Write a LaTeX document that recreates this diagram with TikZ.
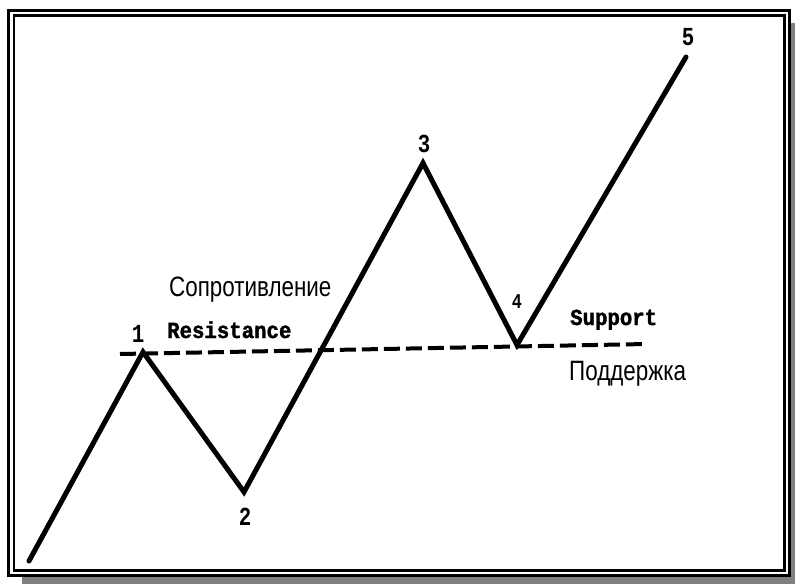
\documentclass[tikz,border=0pt]{standalone}
\usepackage{fontspec}
\setmainfont{Liberation Sans}
\newfontfamily\cyrfont[FakeStretch=0.8]{Liberation Sans}
\newfontfamily\monofont[FakeStretch=0.9,FakeBold=1.5]{Liberation Mono}
\newfontfamily\digfont[FakeStretch=0.8]{Liberation Mono}
\begin{document}
\begin{tikzpicture}[x=1pt,y=-1pt,
  wave/.style={line width=5pt,line cap=round,line join=miter},
  level/.style={line width=4pt,dash pattern=on 16pt off 6pt},
  cyr/.style={anchor=base west,inner sep=0pt,font=\cyrfont\fontsize{28}{28}\selectfont},
  eng/.style={anchor=base west,inner sep=0pt,font=\monofont\bfseries\fontsize{23}{23}\selectfont},
  num/.style={anchor=base,inner sep=0pt,font=\digfont\bfseries\fontsize{26}{26}\selectfont}]
\useasboundingbox (0,0) rectangle (795,584);
% frame with shadow
\fill[black!50] (22,23) rectangle (795,584);
\filldraw[fill=white,draw=black,line width=3pt] (8,10) rectangle (789,575);
\draw[line width=2.5pt] (14,15.5) rectangle (784.5,570.5);
% wave points
\coordinate (s) at (29,561);
\coordinate (p1) at (143,352);
\coordinate (p2) at (244,492);
\coordinate (p3) at (423,163);
\coordinate (p4) at (517,345);
\coordinate (p5) at (686,57);
\coordinate (d1) at (120,354);
\coordinate (d2) at (647,344);
\draw[level] (d1) -- (d2);
\draw[wave] (s) -- (p1) -- (p2) -- (p3) -- (p4) -- (p5);
% labels
\node[num] (n1) at (138,342) {1};
\node[num] (n2) at (245,525) {2};
\node[num] (n3) at (424,152) {3};
\node[num,font=\digfont\bfseries\fontsize{21}{21}\selectfont] (n4) at (517,308) {4};
\node[num] (n5) at (688,45) {5};
\node[cyr] (cres) at (169,296) {Сопротивление};
\node[eng] (res) at (167,338) {Resistance};
\node[eng] (sup) at (570,325) {Support};
\node[cyr] (csup) at (569,380) {Поддержка};
\end{tikzpicture}
\end{document}
